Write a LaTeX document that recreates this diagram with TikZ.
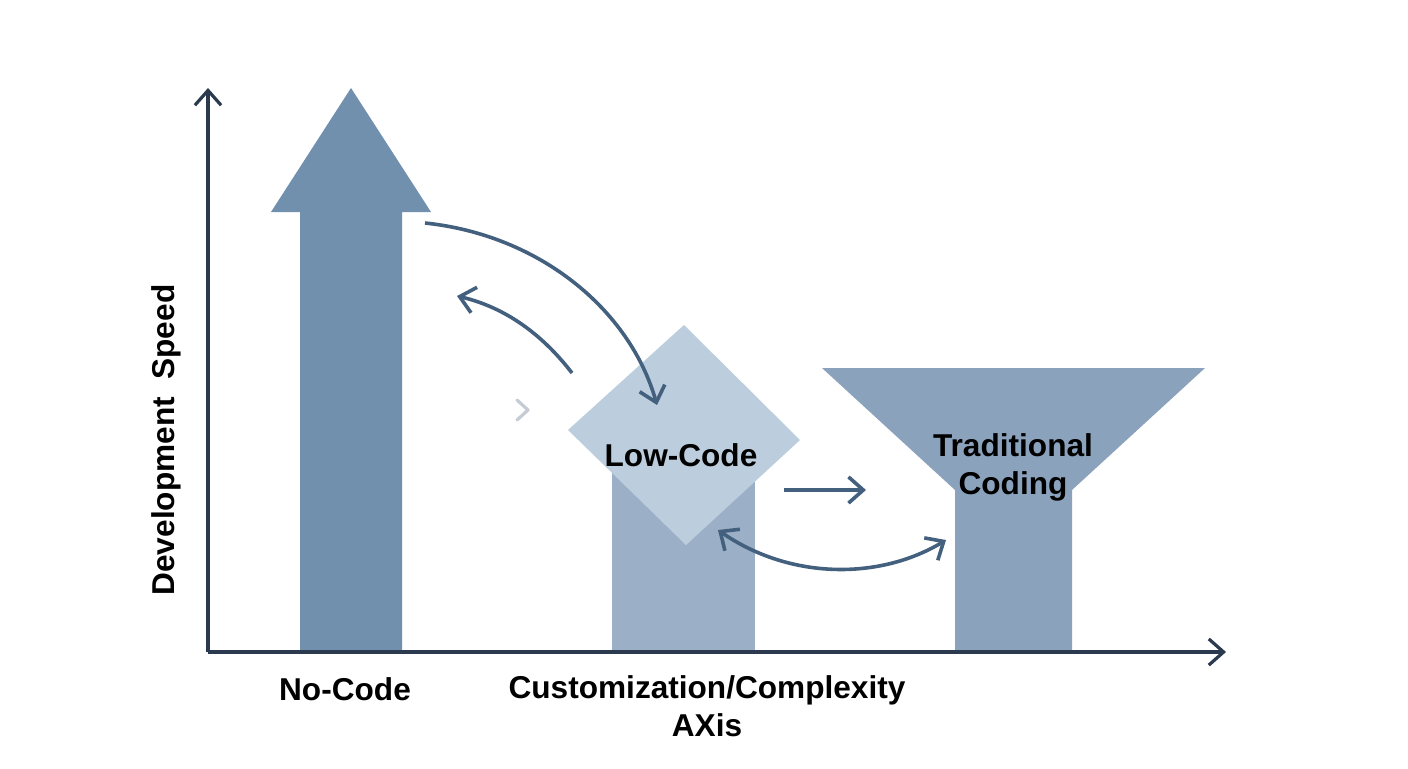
\documentclass[tikz,border=0pt]{standalone}
\usepackage{fontspec}
\setmainfont{Liberation Sans}
\usetikzlibrary{arrows.meta, positioning, calc}
\definecolor{axisline}{HTML}{2B3A4E}
\definecolor{nocodefill}{HTML}{7090AD}
\definecolor{lowbarfill}{HTML}{9BB0C7}
\definecolor{lowdiafill}{HTML}{BCCDDD}
\definecolor{tradfill}{HTML}{8AA2BB}
\definecolor{flowline}{HTML}{44607F}
\definecolor{hintline}{HTML}{C5CCD4}
\tikzset{
  axis/.style   = {line width=1.6pt, draw=axisline, -{Straight Barb[length=2.6mm, width=4.6mm]}},
  flow/.style   = {line width=1.8pt, draw=flowline, -{Straight Barb[length=2.6mm, width=4.6mm]}},
  biflow/.style = {line width=1.8pt, draw=flowline, {Straight Barb[length=2.6mm, width=4.6mm]}-{Straight Barb[length=2.6mm, width=4.6mm]}},
  lbl/.style    = {font=\fontsize{15.8}{19}\selectfont\bfseries, text=black, align=center},
}
\begin{document}
\begin{tikzpicture}[x=0.5pt, y=-0.5pt]
        \useasboundingbox[fill=white] (0,0) rectangle (1408,768);
        % bars
        \fill[nocodefill] (300,650) -- (300,212) -- (271,212) -- (351,88) -- (431,212) -- (402,212) -- (402,650) -- cycle;
        \fill[lowbarfill] (612,470) rectangle (755,650);
        \fill[lowdiafill] (684,325) -- (800,440) -- (686,545) -- (568,430) -- cycle;
        \fill[tradfill] (955,650) -- (955,490) -- (822,368) -- (1205,368) -- (1072,490) -- (1072,650) -- cycle;
        % axes
        \coordinate (origin) at (208,652);
        \coordinate (ytip) at (208,88);
        \coordinate (xtip) at (1226,652);
        \draw[axis] (origin) -- (ytip);
        \draw[axis] (origin) -- (xtip);
        % labels
        \node[lbl, rotate=90] (speed) at (166,440) {Development\ \ Speed};
        \node[lbl] (nocode) at (345,689) {No-Code};
        \node[lbl] (custom) at (707,706) {Customization/Complexity\\AXis};
        \node[lbl] (lowcode) at (681,455) {Low-Code};
        \node[lbl] (trad) at (1013,467) {Traditional\\Coding};
        % connectors
        \coordinate (a1) at (425,223);
        \coordinate (a2) at (657,405);
        \coordinate (b1) at (572,373);
        \coordinate (b2) at (457,296);
        \coordinate (c1) at (784,490);
        \coordinate (c2) at (866,490);
        \coordinate (d1) at (718,530);
        \coordinate (d2) at (946,540);
        \draw[flow] (a1) .. controls (540,235) and (630,310) .. (a2);
        \draw[flow] (b1) .. controls (535,325) and (495,305) .. (b2);
        \draw[flow] (c1) -- (c2);
        \draw[biflow] (d1) .. controls (790,580) and (880,580) .. (d2);
        \draw[hintline, line width=1.6pt, line cap=round, line join=round] (517,400) -- (528,410) -- (517,420);
    \end{tikzpicture}
\end{document}
